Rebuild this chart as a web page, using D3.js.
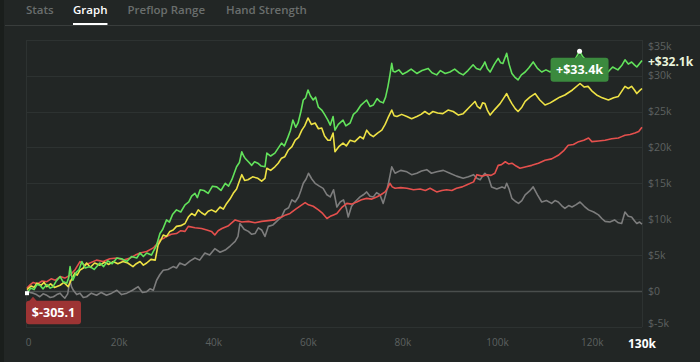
<!DOCTYPE html>
<html>
<head>
<meta charset="utf-8">
<script src="https://cdn.jsdelivr.net/npm/d3@7"></script>
<style>
  html, body { margin: 0; padding: 0; background: #222625; }
  body { width: 700px; height: 362px; overflow: hidden; }
  svg { display: block; font-family: "Open Sans", "Noto Sans", sans-serif; }
</style>
</head>
<body>
<script>
// Tabs across the top
let tabs = ["Stats", "Graph", "Preflop Range", "Hand Strength"];
let tabX = [26, 73, 127.5, 226];
let activeTab = "Graph";

// x = hands (thousands), value = winnings ($ thousands)
let greenPts = [[0,-0.3051],[0.8,0.4],[1.5,0.2],[2.1,0.9],[2.7,0.8],[3.4,0.3],[4.2,0.9],[4.9,0.4],[5.5,0.6],[6.2,1.4],[7,2.0],[7.6,1.3],[8.4,1.1],[8.8,1.8],[9.1,3.4],[9.4,2.2],[9.7,1.5],[10.4,2.6],[11,3.0],[11.6,4.1],[12.3,3.2],[13.3,3.4],[14.2,3.0],[15.4,3.9],[16.2,3.4],[17.1,4.2],[18,3.8],[19,4.6],[20,4.5],[21.1,4.1],[22.1,4.8],[23.2,4.6],[23.9,5.3],[24.6,4.8],[25.3,5.3],[26.3,5.0],[27.4,6.4],[28.1,8.0],[28.7,8.6],[29.5,9.9],[30.1,9.6],[30.8,10.7],[31.6,11.3],[32.5,11.0],[33.4,12.0],[34.2,12.4],[34.8,13.2],[35.5,13.6],[36,13.0],[36.6,14.1],[37.4,14.0],[38.3,13.6],[39.2,14.6],[40.1,14.5],[41,14.0],[41.9,15.0],[42.6,14.6],[43.3,15.5],[43.8,16.4],[44.3,17.3],[44.9,17.9],[45.4,19.4],[45.8,18.8],[46.1,18.5],[46.8,18.0],[47.5,17.5],[48.1,18.0],[48.8,17.8],[49.5,17.4],[50.3,17.3],[50.7,19.2],[51.5,18.8],[52.4,19.2],[53.1,19.9],[53.8,20.6],[54.4,20.2],[55.2,21.5],[55.7,22.4],[56.2,23.8],[56.8,22.8],[57.3,23.4],[57.9,25.0],[58.4,26.6],[58.9,26.9],[59.4,28.0],[59.9,27.2],[60.5,26.6],[61,27.0],[61.6,25.6],[62.3,25.2],[62.9,24.6],[63.6,23.8],[64.1,23.1],[64.7,24.3],[65.1,22.4],[65.8,23.2],[66.8,23.8],[67.4,23.0],[68.3,23.4],[69,24.6],[69.7,25.0],[70.6,25.9],[71.8,26.6],[72.5,25.7],[73.2,25.9],[74,26.8],[74.6,26.4],[75.3,26.2],[75.8,27.0],[76.3,28.5],[76.7,30.0],[77.1,31.7],[77.4,30.6],[77.8,30.5],[78.6,30.8],[79.4,30.2],[80.3,30.5],[81.2,30.9],[82.4,30.3],[83.5,30.7],[84.8,31.0],[85.6,30.4],[86.6,30.1],[87.4,30.7],[88.4,30.3],[89.4,30.5],[90.4,30.9],[91.3,30.4],[92.2,30.1],[93.2,30.7],[94.3,31.5],[95,31.0],[95.8,30.8],[96.4,31.4],[96.8,31.9],[97.3,31.0],[97.9,30.5],[98.8,31.6],[99.6,32.4],[100.1,31.8],[100.6,31.7],[101,32.4],[101.4,33.1],[101.9,31.6],[102.5,30.3],[103.1,29.8],[103.8,29.4],[104.5,30.1],[105.3,30.5],[106.1,31.1],[107,31.9],[107.9,31.0],[108.8,30.5],[109.7,30.8],[110.6,30.5],[111.6,31.0],[112.7,31.0],[113.7,31.4],[114.8,31.8],[115.8,32.2],[116.8,33.4],[117.5,32.6],[118.3,32.1],[119.4,31.5],[120.3,31.0],[121.2,30.8],[122,30.9],[122.8,30.5],[123.8,31.2],[124.9,30.8],[125.7,31.4],[126.4,32.2],[127.1,31.6],[127.8,31.9],[128.4,31.5],[128.9,31.2],[129.5,31.7],[130,32.1]];

let yellowPts = [[0,0.2],[0.9,0.7],[1.5,0.5],[2.1,1.1],[3,0.8],[3.6,1.2],[4.2,0.6],[5,1.0],[5.8,0.5],[7,0.8],[7.8,1.2],[8.7,0.6],[9.4,1.6],[10.1,2.5],[10.6,2.2],[11.2,2.9],[11.9,3.2],[12.6,3.9],[13.4,3.3],[14.3,3.9],[15.4,3.6],[16.4,4.0],[17.3,3.7],[18.2,4.1],[19.2,3.8],[20.3,4.1],[21.3,3.9],[22.4,3.4],[23.1,3.8],[23.9,4.1],[24.6,3.6],[25.3,3.9],[26.2,4.4],[27.1,4.3],[27.7,6.4],[28.3,7.1],[28.8,7.8],[29.5,7.6],[30.2,8.3],[30.9,8.5],[31.6,9.0],[32.5,9.1],[33.4,9.4],[34.1,10.3],[34.8,10.8],[35.5,10.5],[36.2,11.3],[36.9,10.9],[37.6,10.6],[38.3,11.1],[39,11.3],[39.9,11.0],[40.8,11.7],[41.5,11.4],[42.2,12.2],[42.9,12.8],[43.6,13.6],[44.3,14.2],[45,15.5],[45.4,16.2],[46,15.4],[46.7,15.5],[47.7,15.9],[48.8,15.7],[49.6,15.3],[50.3,15.7],[50.7,17.1],[51.5,16.8],[52.4,17.3],[53.1,17.8],[53.8,18.5],[54.5,18.7],[55.2,19.6],[56,20.1],[56.7,21.0],[57.4,21.4],[58.1,22.4],[58.7,23.0],[59.4,24.1],[60.1,23.2],[60.9,23.4],[61.6,22.6],[62.3,22.7],[62.9,21.6],[63.6,21.0],[64.1,21.0],[64.7,22.0],[65.1,19.4],[65.9,20.1],[66.8,20.6],[67.5,20.2],[68.3,21.0],[69.3,20.8],[70.4,21.5],[71.1,21.2],[71.8,22.4],[72.5,21.8],[73.2,21.5],[74.1,22.0],[75,22.4],[75.7,23.2],[76.3,24.1],[77.1,25.2],[77.6,24.4],[78.2,24.3],[79.2,24.6],[80.3,24.3],[81.3,24.0],[82.4,24.3],[83.3,24.6],[84.1,25.0],[85,24.6],[85.8,25.0],[86.8,24.8],[87.9,24.7],[89,25.2],[90.1,25.0],[91.2,24.5],[92.2,24.7],[93.5,25.6],[94.7,26.4],[95.2,25.7],[95.8,25.4],[96.3,26.2],[96.8,26.1],[97.3,25.2],[97.9,24.5],[98.9,25.3],[100,26.1],[100.7,26.8],[101.4,27.5],[101.9,26.8],[102.5,26.1],[103.2,25.4],[103.8,25.0],[104.6,25.6],[105.3,26.4],[106.3,27.0],[107.4,27.5],[108.4,26.6],[109.5,25.9],[110.6,26.2],[111.6,26.6],[112.6,27.0],[113.7,27.3],[115.3,28.0],[116.9,28.9],[117.8,28.4],[118.6,28.5],[119.5,27.8],[120.4,27.3],[121.6,26.9],[122.9,26.6],[124,26.9],[125,27.1],[125.7,27.8],[126.4,28.5],[127.1,28.2],[127.8,28.5],[128.4,28.0],[128.9,27.5],[129.5,27.9],[130,28.2]];

let redPts = [[0,0.4],[0.7,0.9],[1.3,1.2],[2.2,1.0],[3.2,1.4],[4.2,1.3],[5.1,1.7],[6,1.5],[7,2.0],[8,1.8],[9.1,2.2],[10.2,3.0],[11.2,4.1],[12.2,3.6],[13.3,3.9],[14.7,4.3],[16.1,4.1],[17.5,4.5],[19,4.6],[20.4,4.3],[21.8,4.6],[22.9,5.0],[23.9,5.3],[25.3,5.5],[26.7,6.0],[27.4,6.5],[28.1,7.1],[28.8,7.3],[29.5,7.6],[30.5,7.9],[31.6,8.0],[32.5,8.4],[33.4,8.3],[34.1,9.0],[35.5,8.8],[36.9,8.7],[38,8.5],[39,8.3],[39.7,7.8],[40.4,8.4],[41.2,8.7],[42.6,9.1],[44,9.9],[45.4,9.6],[46.8,9.7],[48.2,9.5],[49.6,9.7],[51,9.8],[52.4,9.9],[53.1,10.2],[53.8,10.3],[54.7,10.6],[55.6,10.8],[56.8,11.4],[58.1,12.0],[58.8,12.3],[59.5,12.0],[60.5,11.8],[61.6,11.3],[62.5,10.8],[63.4,10.1],[64.1,10.4],[64.8,10.6],[65.5,10.8],[66.5,11.6],[67.6,12.2],[68.6,12.1],[69.7,12.4],[70.7,12.7],[71.8,12.9],[72.9,12.8],[73.9,13.1],[74.8,13.4],[75.7,13.8],[76.2,14.3],[76.7,15.0],[77.2,14.5],[77.8,14.3],[79,14.4],[80.3,14.3],[81.7,14.1],[83.1,14.2],[84.2,14.0],[85.2,14.3],[86.6,13.8],[87.7,14.0],[88.7,14.1],[89.8,14.0],[90.8,14.3],[92,14.5],[93,14.8],[94.4,15.2],[95.1,16.2],[96.2,16.0],[97.2,16.2],[98.1,16.1],[98.9,16.4],[99.6,17.5],[100.3,17.6],[101.1,18.0],[101.8,17.7],[102.5,17.8],[103.4,17.4],[104.2,17.1],[105.5,17.3],[106.7,17.5],[108.1,17.8],[109.5,18.2],[110.9,18.4],[112.3,18.9],[113.4,19.5],[114.4,20.3],[115.5,20.4],[116.6,20.8],[117.7,21.0],[118.7,21.3],[119.4,20.8],[120.8,20.9],[122.2,21.0],[123.6,21.2],[125,21.3],[125.7,21.5],[126.4,21.7],[127.5,21.8],[128.5,22.0],[129.3,22.2],[130,22.8]];

let grayPts = [[0,0.1],[0.6,-0.2],[1.3,-0.3],[2,-0.5],[2.7,-0.8],[3.4,-0.4],[4.2,-0.6],[4.9,-0.9],[5.6,-0.8],[6.3,-0.5],[7,-0.3],[7.5,-0.7],[8,-1.0],[8.6,-0.4],[9.1,1.5],[9.4,0.6],[9.8,0.1],[10.5,-0.5],[11.2,-0.3],[11.9,-0.9],[12.6,-0.8],[13.6,-0.3],[14.7,-0.6],[15.7,-0.2],[16.8,-0.6],[17.9,-0.3],[19,0.1],[20,-0.5],[21.1,-0.3],[22.3,0.1],[23.5,0.6],[24.4,-0.2],[25.3,-0.1],[26,0.3],[26.7,0.1],[27.4,1.5],[28.1,2.3],[28.8,2.9],[29.8,3.0],[30.9,3.4],[31.6,3.2],[32.3,3.9],[33.4,3.6],[34.5,4.2],[35.5,4.6],[36.5,4.3],[37.6,5.3],[38.6,5.0],[39.7,5.9],[40.8,5.4],[41.9,5.7],[43,6.3],[44,6.9],[44.6,7.6],[45,9.4],[45.9,8.6],[46.8,8.3],[47.5,7.9],[48.2,8.0],[48.9,8.8],[49.6,8.5],[50.3,7.6],[51,9.0],[52,9.2],[53.1,9.9],[53.8,10.3],[54.5,11.3],[55.3,11.6],[56,12.7],[56.7,12.4],[57.4,13.1],[57.9,14.0],[58.4,15.0],[59,15.6],[59.5,16.4],[60.2,15.6],[60.9,15.0],[61.8,14.6],[62.6,14.3],[63.4,13.4],[64.1,13.1],[64.8,14.1],[65.5,11.7],[66.2,12.4],[66.9,12.7],[67.5,11.5],[67.9,10.3],[68.6,11.8],[69.3,12.4],[70.4,13.1],[71.1,13.4],[71.8,13.8],[72.5,13.2],[73.2,13.1],[73.9,13.7],[74.6,13.4],[75.3,12.2],[75.9,13.6],[76.4,15.0],[77.1,17.3],[77.8,16.4],[79,16.8],[80.3,16.6],[81.3,16.2],[82.4,16.4],[83.4,16.7],[84.5,16.9],[85.5,16.4],[86.6,16.6],[88,16.8],[89.4,16.4],[90.8,16.0],[92.2,15.7],[93.3,15.9],[94.4,16.2],[95.1,15.7],[95.8,15.5],[96.3,16.0],[96.8,16.4],[97.5,15.9],[98.2,14.5],[99.3,14.2],[100.4,14.5],[101,14.3],[101.4,15.0],[101.9,14.2],[102.5,12.9],[103.2,12.5],[103.9,12.2],[104.6,12.6],[105.3,13.4],[106.2,13.9],[107,14.5],[107.9,13.4],[108.8,12.4],[109.8,12.6],[110.9,12.2],[111.6,12.6],[112.3,12.4],[113,11.9],[113.7,11.5],[114.5,11.9],[115.2,11.7],[116,12.0],[116.9,12.4],[117.8,11.8],[118.7,11.3],[119.8,11.0],[120.8,10.6],[121.5,10.1],[122.2,9.7],[123.2,9.6],[124.2,9.9],[125,9.5],[125.7,9.4],[126.4,11.0],[127.1,10.4],[127.8,10.3],[128.4,9.8],[128.9,9.4],[129.5,9.6],[130,9.3]];

let xTicks = [0, 20, 40, 60, 80, 100, 120];
let yTicks = [-5, 0, 5, 10, 15, 20, 25, 30, 35];
let xEndLabel = "130k";

let svgWidth = 700;
let svgHeight = 362;

let svg = d3.select("body")
  .append("svg")
  .attr("width", svgWidth)
  .attr("height", svgHeight);

// dark strip on the far left
svg.append("rect")
  .attr("x", 0).attr("y", 0)
  .attr("width", 4).attr("height", svgHeight)
  .style("fill", "#1a1e1c");

// tab bar
svg.append("line")
  .attr("x1", 5).attr("x2", svgWidth)
  .attr("y1", 25.5).attr("y2", 25.5)
  .style("stroke", "#393d3c");

tabs.forEach((t, i) => {
  let txt = svg.append("text")
    .attr("x", tabX[i])
    .attr("y", 14)
    .style("font-size", "11.5px")
    .style("font-weight", 600)
    .style("fill", t === activeTab ? "#ffffff" : "#6a6e6d")
    .text(t);
  if (t === activeTab) {
    let w = txt.node().getComputedTextLength();
    svg.append("line")
      .attr("x1", tabX[i]).attr("x2", tabX[i] + w)
      .attr("y1", 24).attr("y2", 24)
      .style("stroke", "#ffffff")
      .style("stroke-width", 2);
  }
});

// scales
let xScale = d3.scaleLinear().domain([0, 130]).range([27, 642]);
let yScale = d3.scaleLinear().domain([-5, 35]).range([326.9, 39.7]);

// grid
svg.append("g").selectAll("line")
  .data(yTicks)
  .enter()
  .append("line")
  .attr("x1", 26).attr("x2", 642)
  .attr("y1", d => Math.round(yScale(d)) + 0.5)
  .attr("y2", d => Math.round(yScale(d)) + 0.5)
  .style("stroke", d => d === 0 ? "#4a4e4d" : "#2d3231")
  .style("stroke-width", d => d === 0 ? 1.5 : 1);

svg.append("line")
  .attr("x1", 642.5).attr("x2", 642.5)
  .attr("y1", 40).attr("y2", 327)
  .style("stroke", "#2d3231");
svg.append("line")
  .attr("x1", 26.5).attr("x2", 26.5)
  .attr("y1", 40).attr("y2", 327)
  .style("stroke", "#2d3231");

// y axis (right side)
let yAxis = d3.axisRight(yScale)
  .tickValues(yTicks)
  .tickSize(0)
  .tickPadding(0)
  .tickFormat(d => d === 0 ? "$0" : `$${d}k`);

let yG = svg.append("g")
  .attr("transform", "translate(648, 0)")
  .call(yAxis);
yG.select(".domain").remove();
yG.selectAll("text")
  .style("font-size", "10.5px")
  .style("font-family", "\"Open Sans\", sans-serif")
  .style("fill", "#5d6160")
  .attr("dy", d => d === 35 ? "0.98em" : d === -5 ? "-0.05em" : "0.32em");

// x axis
let xAxis = d3.axisBottom(xScale)
  .tickValues(xTicks)
  .tickSize(0)
  .tickPadding(0)
  .tickFormat(d => d === 0 ? "0" : `${d}k`);

let xG = svg.append("g")
  .attr("transform", "translate(0, 339)")
  .call(xAxis);
xG.select(".domain").remove();
xG.selectAll("text")
  .style("font-size", "10px")
  .style("font-family", "\"Open Sans\", sans-serif")
  .style("fill", "#5d6160")
  .attr("dx", d => d === 0 ? 1 : -3);

svg.append("text")
  .attr("x", xScale(130))
  .attr("y", 348)
  .style("text-anchor", "middle")
  .style("font-size", "12px")
  .style("font-weight", 700)
  .style("fill", "#ffffff")
  .text(xEndLabel);

// lines
let line = d3.line()
  .x(d => xScale(d[0]))
  .y(d => yScale(d[1]));

let series = [
  { pts: grayPts, color: "#7d7d7d" },
  { pts: redPts, color: "#e5504d" },
  { pts: yellowPts, color: "#eee245" },
  { pts: greenPts, color: "#62e25b" }
];

svg.append("g").selectAll("path")
  .data(series)
  .enter()
  .append("path")
  .attr("d", d => line(d.pts))
  .style("fill", "none")
  .style("stroke", d => d.color)
  .style("stroke-width", 1.6)
  .style("stroke-linejoin", "round");

// max / min / last of the main line
let maxPt = greenPts.reduce((a, b) => b[1] > a[1] ? b : a);
let minPt = greenPts.reduce((a, b) => b[1] < a[1] ? b : a);
let lastPt = greenPts[greenPts.length - 1];

// last value label
svg.append("text")
  .attr("x", 648)
  .attr("y", yScale(lastPt[1]) + 1)
  .attr("dy", "0.35em")
  .style("font-size", "12px")
  .style("font-weight", 700)
  .style("fill", "#eaf4dc")
  .text(`+$${lastPt[1].toFixed(1)}k`);

// max bubble
let mx = xScale(maxPt[0]);
let my = yScale(maxPt[1]);
let maxG = svg.append("g");
maxG.append("path")
  .attr("d", `M${mx - 4},${my + 7} L${mx},${my + 3} L${mx + 4},${my + 7} Z`)
  .style("fill", "#3b8a3e");
maxG.append("rect")
  .attr("x", mx - 29).attr("y", my + 6.5)
  .attr("width", 58).attr("height", 24)
  .attr("rx", 3)
  .style("fill", "#3b8a3e");
maxG.append("text")
  .attr("x", mx).attr("y", my + 18.5)
  .attr("dy", "0.35em")
  .style("text-anchor", "middle")
  .style("font-size", "12.5px")
  .style("font-weight", 700)
  .style("fill", "#ffffff")
  .text(`+$${maxPt[1].toFixed(1)}k`);
maxG.append("circle")
  .attr("cx", mx).attr("cy", my)
  .attr("r", 2.5)
  .style("fill", "#ffffff");

// min bubble
let nx = xScale(minPt[0]);
let ny = yScale(minPt[1]);
let minG = svg.append("g");
minG.append("path")
  .attr("d", `M${nx + 2},${ny + 8} L${nx + 6},${ny + 3.5} L${nx + 10},${ny + 8} Z`)
  .style("fill", "#9d3434");
minG.append("rect")
  .attr("x", nx - 1).attr("y", ny + 7.5)
  .attr("width", 55).attr("height", 23.5)
  .attr("rx", 3)
  .style("fill", "#9d3434");
minG.append("text")
  .attr("x", nx + 26.5).attr("y", ny + 19.5)
  .attr("dy", "0.35em")
  .style("text-anchor", "middle")
  .style("font-size", "12.5px")
  .style("font-weight", 700)
  .style("fill", "#ffffff")
  .text(`$${(minPt[1] * 1000).toFixed(1)}`);
minG.append("rect")
  .attr("x", nx - 2).attr("y", ny - 2)
  .attr("width", 4).attr("height", 4)
  .style("fill", "#ffffff");
</script>
</body>
</html>
